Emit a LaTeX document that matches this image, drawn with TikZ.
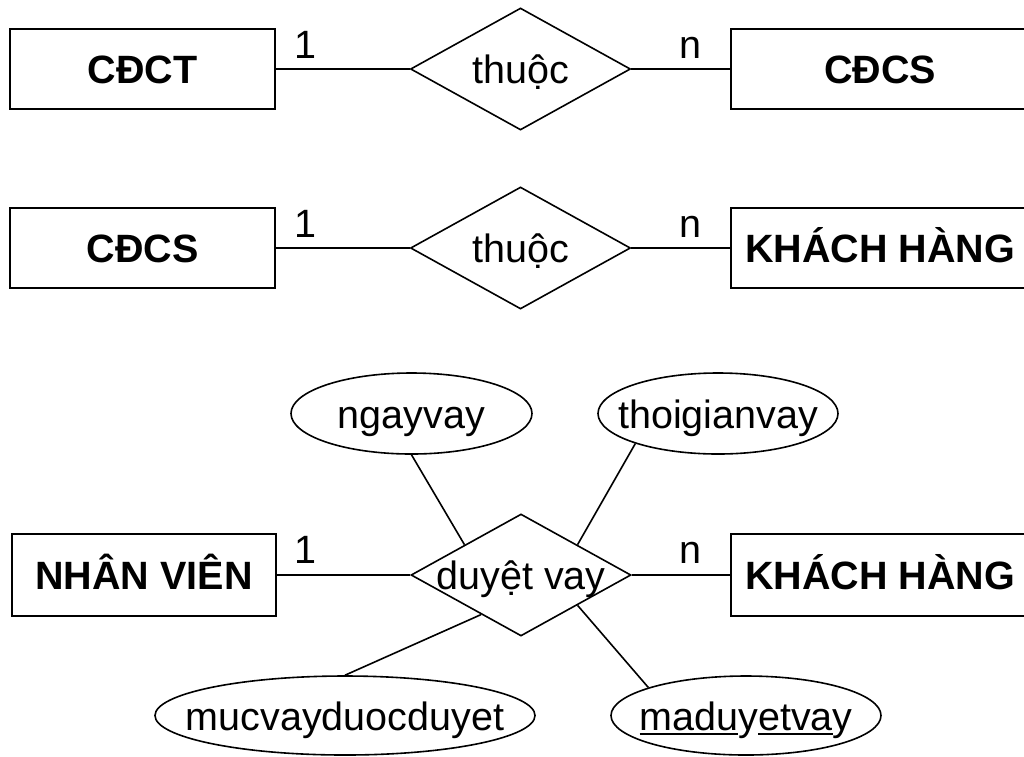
\documentclass[tikz,border=0pt]{standalone}
\usepackage{fontspec}
\setmainfont{Liberation Sans}
\usetikzlibrary{shapes.geometric,calc}
% underline a piece of text with a rule just under the baseline
\newcommand\ulpart[1]{\setbox0\hbox{#1}\rlap{\rule[-5pt]{\wd0}{2pt}}\box0}
\begin{document}
\begin{tikzpicture}[x=1pt,y=-1pt,
  every node/.style={font=\fontsize{39.5}{47}\selectfont, inner sep=0pt,
                     text height=37pt, text depth=8pt},
  entity/.style={draw, line width=1.8pt, minimum height=80pt,
                 font=\fontsize{39.5}{47}\selectfont\bfseries},
  relation/.style={draw, diamond, line width=1.6pt,
                   minimum width=220pt, minimum height=122pt},
  attr/.style={draw, ellipse, line width=1.6pt},
  card/.style={anchor=base},
  link/.style={line width=1.6pt}]
\useasboundingbox (0,0) rectangle (1024,756);
\clip (0,0) rectangle (1024,756);

% CĐCT -- thuộc -- CĐCS
\node[entity, minimum width=265pt] (cdct) at (142.5,69) {CĐCT};
\node[relation] (thuoc1) at (520.5,69) {\makebox[0pt]{thuộc}};
\node[entity, minimum width=298pt] (cdcs1) at (880,69) {CĐCS};
\draw[link] (cdct) -- (thuoc1);
\draw[link] (thuoc1) -- (cdcs1);
\node[card] (c11) at (305,58) {1};
\node[card] (c1n) at (690,58) {n};

% CĐCS -- thuộc -- KHÁCH HÀNG
\node[entity, minimum width=265pt] (cdcs2) at (142.5,248) {CĐCS};
\node[relation] (thuoc2) at (520.5,248) {\makebox[0pt]{thuộc}};
\node[entity, minimum width=298pt] (kh1) at (880,248) {KHÁCH HÀNG};
\draw[link] (cdcs2) -- (thuoc2);
\draw[link] (thuoc2) -- (kh1);
\node[card] (c21) at (305,237) {1};
\node[card] (c2n) at (690,237) {n};

% NHÂN VIÊN -- duyệt vay -- KHÁCH HÀNG
\node[entity, minimum width=264pt, minimum height=82pt] (nv) at (144,575) {NHÂN VIÊN};
\node[relation] (dv) at (521,575) {\makebox[0pt]{duyệt vay}};
\node[entity, minimum width=298pt, minimum height=82pt] (kh2) at (880,575) {KHÁCH HÀNG};
\draw[link] (nv) -- (dv);
\draw[link] (dv) -- (kh2);
\node[card] (c31) at (305,563) {1};
\node[card] (c3n) at (690,563) {n};

% attributes of duyệt vay
\node[attr, minimum width=241pt, minimum height=81pt] (ng) at (411.5,413.5) {\makebox[0pt]{ngayvay}};
\node[attr, minimum width=240pt, minimum height=81pt] (tg) at (718,413.5) {\makebox[0pt]{thoigianvay}};
\node[attr, minimum width=380pt, minimum height=79pt] (mv) at (345,715.5) {\makebox[0pt]{mucvayduocduyet}};
\node[attr, minimum width=270pt, minimum height=79pt] (md) at (746,715.5) {\makebox[0pt]{\ulpart{madu}y\ulpart{etva}y}};

\draw[link] (ng.south) -- ($(dv.west)!0.49!(dv.north)$);
\draw[link] (tg.200) -- ($(dv.north)!0.51!(dv.east)$);
\draw[link] (mv.north) -- ($(dv.west)!0.64!(dv.south)$);
\draw[link] (md.164) -- ($(dv.south)!0.51!(dv.east)$);
\end{tikzpicture}
\end{document}
